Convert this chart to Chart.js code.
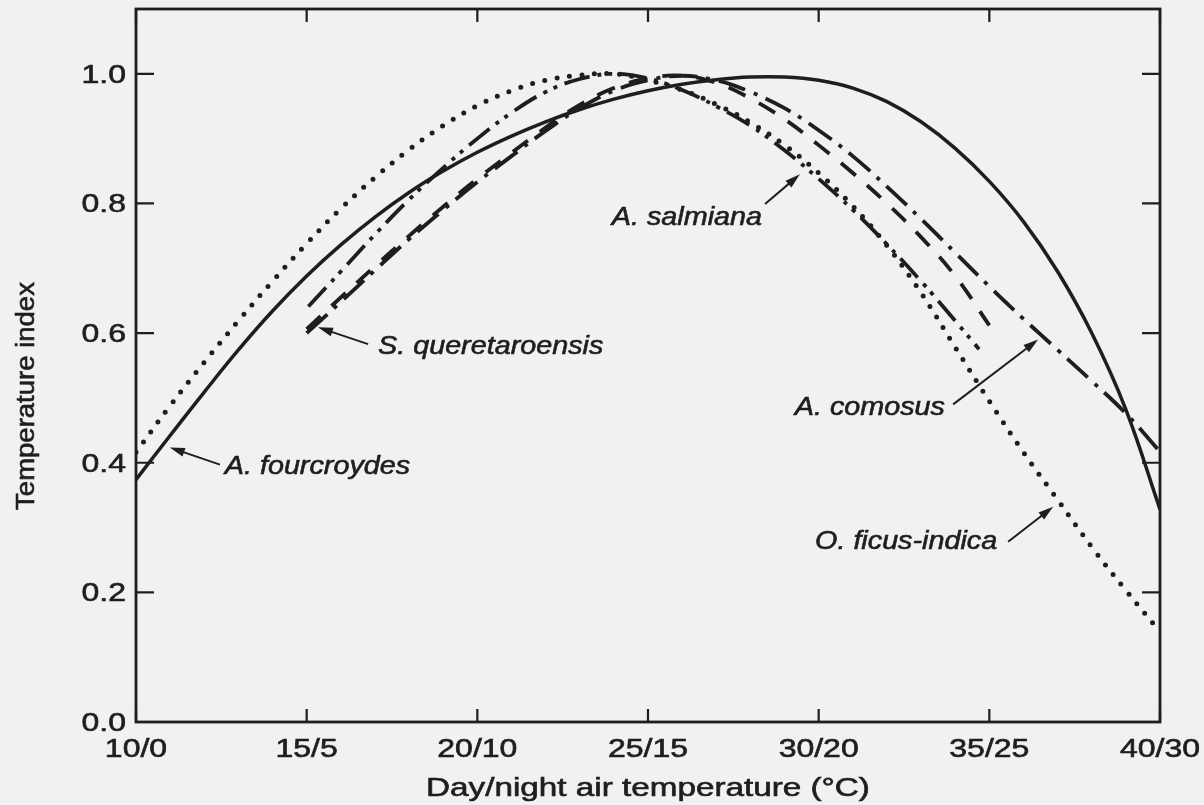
<!DOCTYPE html>
<html>
<head>
<meta charset="utf-8" />
<title>Temperature index</title>
<script src="https://cdn.jsdelivr.net/npm/chart.js"></script>
<style>
  body { margin: 0; background: #f1f1f1; }
  #chart { display: block; }
</style>
</head>
<body>
<canvas id="chart" width="1204" height="805"></canvas>
<script>
// day temperature (°C); the night temperature is 10 degrees lower
const fullRange = [10, 11, 12, 13, 14, 15, 16, 17, 18, 19, 20, 21, 22, 23, 24, 25,
                   26, 27, 28, 29, 30, 31, 32, 33, 34, 35, 36, 37, 38, 39, 40];
const from15to35 = [15, 16, 17, 18, 19, 20, 21, 22, 23, 24, 25, 26, 27, 28, 29, 30,
                    31, 32, 33, 34, 35];
const from15to40 = [15, 16, 17, 18, 19, 20, 21, 22, 23, 24, 25, 26, 27, 28, 29, 30,
                    31, 32, 33, 34, 35, 36, 37, 38, 39, 40];
const salmianaTemps = [15.05, 16, 17, 18, 19, 20, 21, 22, 23, 24, 25, 26, 27, 28, 29,
                       30, 31, 32, 33, 34, 34.7];

const fourcroydes = [0.374, 0.442, 0.509, 0.574, 0.634, 0.688, 0.736, 0.779, 0.817, 0.85,
                     0.879, 0.904, 0.926, 0.945, 0.961, 0.974, 0.984, 0.991, 0.995, 0.995,
                     0.99, 0.978, 0.957, 0.926, 0.885, 0.834, 0.772, 0.695, 0.6, 0.482, 0.328];
const ficusIndica = [0.416, 0.488, 0.555, 0.619, 0.68, 0.738, 0.792, 0.84, 0.883, 0.92,
                     0.951, 0.974, 0.99, 0.998, 1.0, 0.99, 0.975, 0.953, 0.925, 0.89,
                     0.847, 0.796, 0.735, 0.662, 0.578, 0.495, 0.416, 0.343, 0.27, 0.203, 0.139];
const queretaroensis = [0.606, 0.655, 0.703, 0.75, 0.795, 0.838, 0.878, 0.917, 0.952, 0.978,
                        0.993, 0.997, 0.986, 0.962, 0.93, 0.89, 0.847, 0.8, 0.748, 0.688, 0.612];
const comosus = [0.60, 0.648, 0.697, 0.745, 0.79, 0.833, 0.873, 0.912, 0.947, 0.974,
                 0.99, 0.997, 0.99, 0.972, 0.947, 0.913, 0.873, 0.826, 0.776, 0.724,
                 0.672, 0.622, 0.574, 0.526, 0.476, 0.417];
const salmiana = [0.641, 0.695, 0.752, 0.806, 0.855, 0.9, 0.94, 0.972, 0.992, 1.0,
                  0.993, 0.975, 0.95, 0.92, 0.882, 0.838, 0.79, 0.737, 0.68, 0.619, 0.575];

const xTickStep = 5;
const yTicks = [0, 0.2, 0.4, 0.6, 0.8, 1.0];

// species labels with arrows, in axis units
const notes = [
  { text: 'A. fourcroydes',    at: [12.6, 0.393],  align: 'left',  tail: [12.46, 0.397], tip: [10.99, 0.4235] },
  { text: 'S. queretaroensis', at: [17.09, 0.578], align: 'left',  tail: [16.8, 0.583],  tip: [15.33, 0.609] },
  { text: 'A. salmiana',       at: [28.34, 0.777], align: 'right', tail: [28.43, 0.799], tip: [29.45, 0.845] },
  { text: 'A. comosus',        at: [33.7, 0.485],  align: 'right', tail: [33.94, 0.49],  tip: [36.43, 0.59] },
  { text: 'O. ficus-indica',   at: [35.23, 0.277], align: 'right', tail: [35.55, 0.278], tip: [36.87, 0.332] }
];

const ink = '#1e1e1e';
const FONT = '"Liberation Sans", Arial, Helvetica, sans-serif';

const pts = (xs, ys) => xs.map((x, i) => ({ x: x, y: ys[i] }));
const dayNight = v => v + '/' + (v - 10);

function line(label, data, width, dash, cap) {
  return {
    label: label,
    data: data,
    borderColor: ink,
    borderWidth: width,
    borderDash: dash,
    borderCapStyle: cap,
    borderJoinStyle: 'round',
    pointRadius: 0,
    fill: false,
    tension: 0.4
  };
}

// text widened horizontally by sx, with a hairline stroke for weight
function drawText(ctx, str, x, y, align, sx) {
  ctx.save();
  ctx.translate(x, y);
  ctx.scale(sx, 1);
  ctx.textAlign = align;
  ctx.lineWidth = 0.6;
  ctx.fillText(str, 0, 0);
  ctx.strokeText(str, 0, 0);
  ctx.restore();
}

function drawArrow(ctx, x0, y0, x1, y1) {
  const ang = Math.atan2(y1 - y0, x1 - x0);
  const L = 15, W = 4.5;
  const c = Math.cos(ang), s = Math.sin(ang);
  ctx.beginPath();
  ctx.moveTo(x0, y0);
  ctx.lineTo(x1 - L * 0.7 * c, y1 - L * 0.7 * s);
  ctx.stroke();
  ctx.beginPath();
  ctx.moveTo(x1, y1);
  ctx.lineTo(x1 - L * c + W * s, y1 - L * s - W * c);
  ctx.lineTo(x1 - L * c - W * s, y1 - L * s + W * c);
  ctx.closePath();
  ctx.fill();
}

const framePlugin = {
  id: 'frame',
  beforeDraw(chart) {
    const ctx = chart.ctx;
    ctx.save();
    ctx.fillStyle = '#f1f1f1';
    ctx.fillRect(0, 0, chart.width, chart.height);
    ctx.restore();
  },
  afterDraw(chart) {
    const ctx = chart.ctx;
    const a = chart.chartArea;
    const x = chart.scales.x, y = chart.scales.y;
    ctx.save();
    ctx.strokeStyle = ink;
    ctx.fillStyle = ink;

    // box and inward ticks on all four sides
    ctx.lineWidth = 2.8;
    ctx.strokeRect(a.left, a.top, a.right - a.left, a.bottom - a.top);
    ctx.lineWidth = 2.2;
    ctx.beginPath();
    x.ticks.forEach(t => {
      const px = x.getPixelForValue(t.value);
      ctx.moveTo(px, a.bottom); ctx.lineTo(px, a.bottom - 13);
      ctx.moveTo(px, a.top); ctx.lineTo(px, a.top + 13);
    });
    y.ticks.forEach(t => {
      const py = y.getPixelForValue(t.value);
      ctx.moveTo(a.left, py); ctx.lineTo(a.left + 18, py);
      ctx.moveTo(a.right, py); ctx.lineTo(a.right - 18, py);
    });
    ctx.stroke();

    // tick labels
    ctx.font = '25px ' + FONT;
    ctx.textBaseline = 'alphabetic';
    x.ticks.forEach(t => {
      drawText(ctx, dayNight(t.value), x.getPixelForValue(t.value), a.bottom + 35, 'center', 1.28);
    });
    y.ticks.forEach(t => {
      drawText(ctx, t.value.toFixed(1), a.left - 10, y.getPixelForValue(t.value) + 9, 'right', 1.28);
    });

    // axis titles
    drawText(ctx, 'Day/night air temperature (°C)', (a.left + a.right) / 2, a.bottom + 74, 'center', 1.33);
    ctx.save();
    ctx.translate(34, 396);
    ctx.rotate(-Math.PI / 2);
    drawText(ctx, 'Temperature index', 0, 0, 'center', 1.1);
    ctx.restore();

    // species labels
    ctx.font = 'italic 25px ' + FONT;
    ctx.textBaseline = 'middle';
    notes.forEach(n => {
      drawText(ctx, n.text, x.getPixelForValue(n.at[0]), y.getPixelForValue(n.at[1]), n.align, 1.15);
      ctx.lineWidth = 2;
      drawArrow(ctx,
        x.getPixelForValue(n.tail[0]), y.getPixelForValue(n.tail[1]),
        x.getPixelForValue(n.tip[0]), y.getPixelForValue(n.tip[1]));
    });
    ctx.restore();
  }
};

new Chart(document.getElementById('chart'), {
  type: 'line',
  data: {
    datasets: [
      line('A. fourcroydes', pts(fullRange, fourcroydes), 3.5, [], 'butt'),
      line('O. ficus-indica', pts(fullRange, ficusIndica), 5, [0, 12.5], 'round'),
      line('S. queretaroensis', pts(from15to35, queretaroensis), 3.8, [19, 15], 'butt'),
      line('A. comosus', pts(from15to40, comosus), 3.8, [28, 9, 4, 9], 'butt'),
      line('A. salmiana', pts(salmianaTemps, salmiana), 3.8, [26, 8, 4, 7, 4, 8], 'butt')
    ]
  },
  options: {
    responsive: false,
    animation: false,
    devicePixelRatio: 1,
    layout: { padding: { top: 9, right: 44, left: 0, bottom: 0 } },
    plugins: { legend: { display: false }, tooltip: { enabled: false } },
    scales: {
      x: {
        type: 'linear',
        min: 10,
        max: 40,
        ticks: { display: false, stepSize: xTickStep },
        grid: { display: false },
        border: { display: false },
        afterFit: s => { s.height = 83; }
      },
      y: {
        type: 'linear',
        min: 0,
        max: 1.1,
        ticks: { display: false, stepSize: 0.2 },
        grid: { display: false },
        border: { display: false },
        afterBuildTicks: s => { s.ticks = yTicks.map(v => ({ value: v })); },
        afterFit: s => { s.width = 136; }
      }
    }
  },
  plugins: [framePlugin]
});
</script>
</body>
</html>
